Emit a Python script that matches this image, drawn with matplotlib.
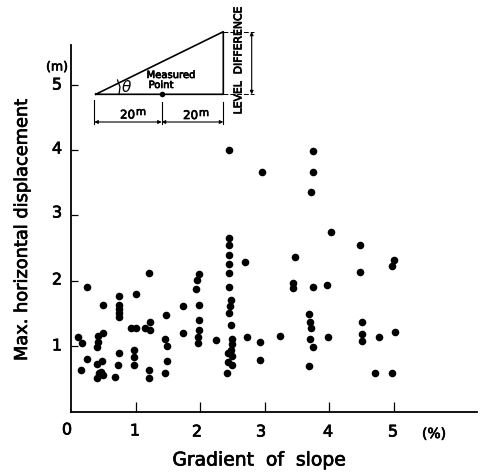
import matplotlib
matplotlib.use('Agg')
import matplotlib.pyplot as plt
import matplotlib.patheffects as pe

plt.rcParams['font.family'] = ['DejaVu Sans']

gradient = [0.24, 0.49, 0.74, 0.75, 0.75, 0.75, 0.75, 1.00, 1.20, 0.11, 0.17, 0.25, 0.16,
            0.49, 0.42, 0.42, 0.41, 0.48, 0.41, 0.47, 0.44, 0.41, 0.49, 0.68, 0.75, 0.73,
            0.93, 1.00, 0.98, 0.98, 0.98, 1.15, 1.23, 1.23, 1.20, 1.20, 1.47, 1.46, 1.49,
            1.48, 1.46, 1.73, 1.74, 1.98, 1.95, 1.93, 1.98, 1.98, 1.98, 1.97, 1.97, 2.24,
            2.45, 2.44, 2.45, 2.45, 2.44, 2.45, 2.48, 2.46, 2.44, 2.48, 2.49, 2.49, 2.48,
            2.43, 2.49, 2.43, 2.49, 2.42, 2.44, 3.74, 3.74, 3.72, 2.95, 4.02, 4.48, 3.46,
            2.70, 4.48, 5.00, 4.97, 3.44, 3.43, 3.74, 3.96, 3.69, 3.70, 3.72, 3.70, 3.98,
            4.50, 4.50, 4.50, 4.77, 5.02, 3.74, 2.72, 2.92, 3.23, 2.92, 3.68, 4.70, 4.97]
displacement = [1.90, 1.62, 1.76, 1.63, 1.56, 1.51, 1.45, 1.80, 2.11, 1.14, 1.05, 0.80, 0.63,
                1.19, 1.15, 1.06, 0.98, 0.76, 0.72, 0.60, 0.58, 0.50, 0.56, 0.52, 0.89, 0.70,
                1.27, 1.27, 0.93, 0.83, 0.71, 1.27, 1.37, 1.24, 0.63, 0.50, 1.47, 1.11, 0.99,
                0.76, 0.59, 1.61, 1.20, 2.10, 2.01, 1.87, 1.63, 1.39, 1.25, 1.14, 1.05, 1.09,
                2.65, 2.54, 2.40, 2.25, 2.12, 1.91, 1.71, 1.61, 1.50, 1.32, 1.10, 1.03, 0.94,
                0.89, 0.84, 0.75, 0.71, 0.58, 4.00, 3.99, 3.67, 3.36, 3.67, 2.74, 2.55, 2.36,
                2.29, 2.14, 2.31, 2.23, 1.97, 1.88, 1.91, 1.93, 1.49, 1.36, 1.28, 1.11, 1.13,
                1.36, 1.18, 1.08, 1.13, 1.21, 0.98, 1.13, 1.06, 1.15, 0.78, 0.69, 0.59, 0.59]
tick_vals = [1, 2, 3, 4, 5]

fig = plt.figure(figsize=(4.82, 4.75), dpi=100)
W, H = 482, 475

# main axes, spines only on the left and bottom
ax = fig.add_axes([71 / W, (H - 412) / H, (477 - 71) / W, (412 - 45) / H])
ax.set_xlim(0, 406 / 64.6)
ax.set_ylim(-0.015, 5.615)
ax.scatter(gradient, displacement, s=30, c='black', linewidths=0, zorder=3)
for s in ['top', 'right']:
    ax.spines[s].set_visible(False)
for s in ['left', 'bottom']:
    ax.spines[s].set_linewidth(1.3)
ax.set_xticks(tick_vals)
ax.set_yticks(tick_vals)
ax.set_xticklabels([])
ax.set_yticklabels([])
ax.tick_params(axis='x', direction='in', length=7, width=0.9)
ax.tick_params(axis='y', direction='in', length=5, width=0.9)

# overlay in pixel coordinates for labels and the slope sketch
ov = fig.add_axes([0, 0, 1, 1])
ov.set_xlim(0, W)
ov.set_ylim(H, 0)
ov.axis('off')

heavy = [pe.withStroke(linewidth=0.5, foreground='black')]
lab = dict(ha='center', va='center', color='black', path_effects=heavy)
for v, x, y in zip(tick_vals, [135, 197, 261, 328, 393], [431, 432, 432, 432, 432]):
    ov.text(x, y, str(v), fontsize=11.5, **lab)
ov.text(67, 430, '0', fontsize=11.5, **lab)
for v, y in zip(tick_vals, [346, 280, 213, 149, 85]):
    ov.text(57, y, str(v), fontsize=11.5, **lab)
ov.text(57, 67, '(m)', fontsize=9, **lab)
ov.text(434, 434, '(%)', fontsize=10, **lab)
ov.text(22, 230, 'Max. horizontal displacement', fontsize=12.8, rotation=90, **lab)
ov.text(259, 460, 'Gradient  of  slope', fontsize=13.5, **lab)

# slope sketch
ov.plot([95.7, 223.3, 223.3, 95.7], [94.3, 31.7, 94.3, 94.3], c='black', lw=1.2)
ov.scatter([162.3], [94.3], s=16, c='black', linewidths=0, zorder=3)
ov.plot([117.5, 120, 119], [80, 87, 94.3], c='black', lw=0.9)
for x, y0 in zip([94.3, 161.7, 223.3], [100, 102, 102]):
    ov.plot([x, x], [y0, 124], c='black', lw=0.8)
ov.plot([223.3, 254], [31.7, 31.7], c='black', lw=0.7, ls=(0, (5, 2)))
ov.plot([223.3, 254], [94.3, 94.3], c='black', lw=0.7, ls=(0, (5, 2)))
arrow = dict(arrowstyle='<|-|>', color='black', lw=0.8, shrinkA=0, shrinkB=0, mutation_scale=5)
ov.annotate('', xy=(94.3, 122), xytext=(161.7, 122), arrowprops=arrow)
ov.annotate('', xy=(161.7, 122), xytext=(223.3, 122), arrowprops=arrow)
ov.annotate('', xy=(251.7, 31.7), xytext=(251.7, 94.3), arrowprops=arrow)
ov.text(127.5, 115, '20', fontsize=8.5, **lab)
ov.text(141, 112, 'm', fontsize=7.5, **lab)
ov.text(190.5, 115.5, '20', fontsize=8.5, **lab)
ov.text(204, 113, 'm', fontsize=7.5, **lab)
ov.text(126, 87, '\u03b8', fontsize=11, style='italic', ha='center', va='center')
ov.text(171, 75, 'Measured', fontsize=7.2, **lab)
ov.text(161, 85, 'Point', fontsize=7.2, **lab)
ov.text(238.5, 60, 'LEVEL  DIFFERENCE', fontsize=7.8, rotation=90, **lab)

fig.savefig('out.png', dpi=100)
plt.close()
